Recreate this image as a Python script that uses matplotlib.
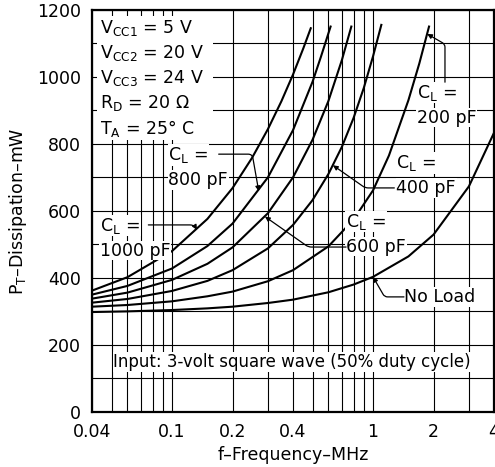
import numpy as np
import matplotlib
matplotlib.use("Agg")
import matplotlib.pyplot as plt
from matplotlib.patches import Rectangle
from matplotlib.ticker import FixedLocator, NullFormatter

plt.rcParams['font.family'] = ['DejaVu Sans']
plt.rcParams['mathtext.fontset'] = 'dejavusans'

# values (f in MHz, P in mW)
f_noload = [0.04, 0.06, 0.1, 0.15, 0.2, 0.3, 0.4, 0.6, 0.8, 1.0, 1.5, 2.0, 3.0, 4.0]
p_noload = [298, 300, 304, 309, 314, 325, 335, 357, 380, 403, 464, 529, 673, 833]

f_200 = [0.04, 0.06, 0.1, 0.15, 0.2, 0.3, 0.4, 0.6, 0.8, 1.0, 1.2, 1.5, 1.7, 1.9]
p_200 = [314, 319, 330, 345, 359, 390, 423, 494, 574, 661, 765, 930, 1040, 1150]

f_400 = [0.04, 0.06, 0.1, 0.15, 0.2, 0.3, 0.4, 0.5, 0.6, 0.7, 0.8, 0.9, 1.0, 1.1]
p_400 = [326, 337, 361, 391, 423, 488, 558, 632, 710, 791, 877, 967, 1061, 1155]

f_600 = [0.04, 0.06, 0.1, 0.15, 0.2, 0.3, 0.4, 0.5, 0.6, 0.7, 0.78]
p_600 = [338, 356, 394, 442, 491, 593, 700, 812, 928, 1050, 1150]

f_800 = [0.04, 0.06, 0.1, 0.15, 0.2, 0.3, 0.4, 0.5, 0.55, 0.615]
p_800 = [350, 376, 428, 495, 562, 700, 841, 985, 1059, 1150]

f_1000 = [0.04, 0.06, 0.1, 0.15, 0.2, 0.25, 0.3, 0.35, 0.4, 0.45, 0.49]
p_1000 = [362, 402, 480, 576, 668, 758, 844, 927, 1007, 1085, 1145]

xtick_vals = [0.04, 0.1, 0.2, 0.4, 1, 2, 4]
xtick_text = ["0.04", "0.1", "0.2", "0.4", "1", "2", "4"]
xminor = [0.05, 0.06, 0.07, 0.08, 0.09, 0.3, 0.5, 0.6, 0.7, 0.8, 0.9, 3]

FS = 12.5

fig = plt.figure(figsize=(4.95, 4.67), dpi=100)
ax = fig.add_axes([0.186, 0.118, 0.812, 0.861])
ax.set_xscale('log')
ax.set_xlim(0.04, 4)
ax.set_ylim(0, 1200)
ax.set_xticks(xtick_vals)
ax.set_xticklabels(xtick_text)
ax.xaxis.set_minor_locator(FixedLocator(xminor))
ax.xaxis.set_minor_formatter(NullFormatter())
ax.set_yticks(range(0, 1201, 200))
ax.yaxis.set_minor_locator(FixedLocator(range(100, 1200, 200)))
ax.tick_params(which='both', length=0, labelsize=FS)
ax.tick_params(axis='x', pad=8)
ax.tick_params(axis='y', pad=8)
ax.set_axisbelow(True)
ax.grid(True, which='both', color='black', lw=0.8)
for s in ax.spines.values():
    s.set_linewidth(1.6)

for f, p in [(f_noload, p_noload), (f_200, p_200), (f_400, p_400),
             (f_600, p_600), (f_800, p_800), (f_1000, p_1000)]:
    ax.plot(f, p, color='black', lw=1.5, zorder=2)

# conditions block
ax.add_patch(Rectangle((0.012, 0.675), 0.29, 0.31, transform=ax.transAxes,
                       facecolor='white', edgecolor='none', zorder=1.5))
cond = [r"V$_{\mathrm{CC1}}$ = 5 V", r"V$_{\mathrm{CC2}}$ = 20 V",
        r"V$_{\mathrm{CC3}}$ = 24 V", r"R$_{\mathrm{D}}$ = 20 Ω",
        r"T$_{\mathrm{A}}$ = 25° C"]
for i, t in enumerate(cond):
    ax.text(0.02, 0.955 - i * 0.0625, t, transform=ax.transAxes, fontsize=FS,
            va='center', ha='left', zorder=3)

box = dict(facecolor='white', edgecolor='none', pad=0.5)
arw = dict(arrowstyle='-|>', color='black', lw=0.9, shrinkA=0, shrinkB=0,
           mutation_scale=7)


def label(x, y, cap):
    ax.text(x, y, r"C$_{\mathrm{L}}$ =", transform=ax.transAxes, fontsize=FS,
            va='center', ha='left', bbox=box, zorder=3)
    ax.text(x, y - 0.062, cap, transform=ax.transAxes, fontsize=FS,
            va='center', ha='left', bbox=box, zorder=3)


label(0.02, 0.463, "1000 pF")
ax.annotate("", xy=(0.133, np.interp(0.133, f_1000, p_1000)), xycoords='data',
            xytext=(0.14, 0.465), textcoords='axes fraction',
            arrowprops=dict(arw, connectionstyle="angle,angleA=0,angleB=-60,rad=4"))

label(0.19, 0.639, "800 pF")
ax.annotate("", xy=(0.27, np.interp(0.27, f_800, p_800)), xycoords='data',
            xytext=(0.315, 0.641), textcoords='axes fraction',
            arrowprops=dict(arw, connectionstyle="angle,angleA=0,angleB=-80,rad=4"))

label(0.632, 0.473, "600 pF")
ax.annotate("", xy=(0.29, np.interp(0.29, f_600, p_600)), xycoords='data',
            xytext=(0.632, 0.41), textcoords='axes fraction',
            arrowprops=dict(arw, connectionstyle="angle,angleA=180,angleB=-35,rad=3"))

label(0.757, 0.619, "400 pF")
ax.annotate("", xy=(0.632, np.interp(0.632, f_400, p_400)), xycoords='data',
            xytext=(0.752, 0.557), textcoords='axes fraction',
            arrowprops=dict(arw, connectionstyle="angle,angleA=180,angleB=-35,rad=3"))

label(0.808, 0.794, "200 pF")
ax.annotate("", xy=(1.86, np.interp(1.86, f_200, p_200)), xycoords='data',
            xytext=(0.878, 0.82), textcoords='axes fraction',
            arrowprops=dict(arw, connectionstyle="angle,angleA=90,angleB=-30,rad=3"))

ax.text(0.776, 0.286, "No Load", transform=ax.transAxes, fontsize=FS,
        va='center', ha='left', bbox=box, zorder=3)
ax.annotate("", xy=(1.0, np.interp(1.0, f_noload, p_noload)), xycoords='data',
            xytext=(0.776, 0.286), textcoords='axes fraction',
            arrowprops=dict(arw, connectionstyle="angle,angleA=180,angleB=-60,rad=3"))

ax.text(0.4975, 0.124, "Input: 3-volt square wave (50% duty cycle)",
        transform=ax.transAxes, fontsize=12, va='center', ha='center',
        bbox=box, zorder=3)

fig.text(0.036, 0.548, "P$_{\\mathrm{T}}$–Dissipation–mW", rotation=90,
         fontsize=FS, va='center', ha='center')
fig.text(0.592, 0.026, "f–Frequency–MHz", fontsize=FS, va='center', ha='center')

fig.savefig("out.png", dpi=100)
